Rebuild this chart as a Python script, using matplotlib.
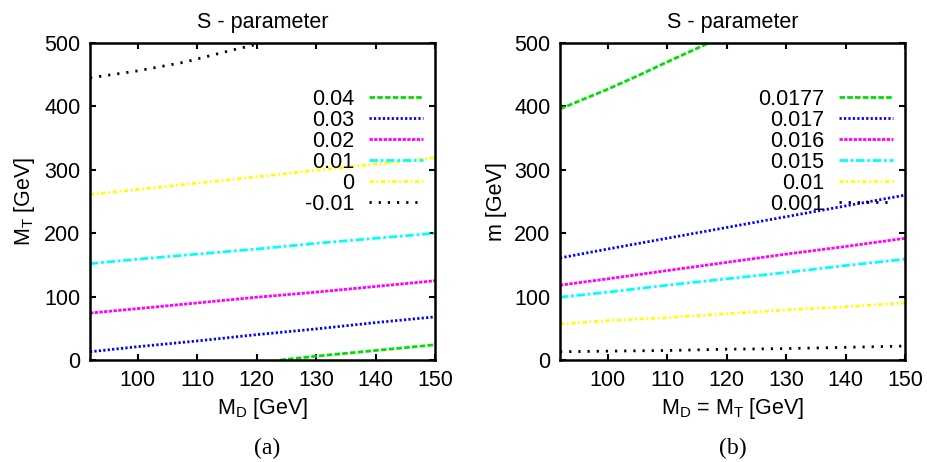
import matplotlib
matplotlib.use('Agg')
import matplotlib.pyplot as plt

plt.rcParams['font.family'] = ['Liberation Sans', 'DejaVu Sans']
plt.rcParams['mathtext.fontset'] = 'custom'
plt.rcParams['mathtext.rm'] = 'Liberation Sans'
plt.rcParams['mathtext.it'] = 'Liberation Sans:italic'

# panel (a): M_T vs M_D
x_a = [92, 100, 110, 120, 130, 140, 150]
labels_a = ['0.04', '0.03', '0.02', '0.01', '0', '-0.01']
green_a_x = [124, 130, 140, 150]
green_a_y = [0, 6, 15, 24]
blue_a = [13, 21, 30, 40, 49, 59, 68]
magenta_a = [74, 81, 90, 99, 107, 116, 125]
cyan_a = [152, 159, 167, 175, 184, 192, 200]
yellow_a = [261, 269, 279, 289, 299, 309, 319]
black_a_x = [92, 100, 108, 116, 121, 122]
black_a_y = [445, 456, 470, 489, 500, 503]

# panel (b): m vs M_D = M_T
x_b = [92, 100, 110, 120, 130, 140, 150]
labels_b = ['0.0177', '0.017', '0.016', '0.015', '0.01', '0.001']
green_b_x = [92, 100, 105, 110, 117, 118]
green_b_y = [396, 427, 448, 470, 500, 504]
blue_b = [161, 175, 192, 209, 226, 243, 260]
magenta_b = [118, 128, 141, 154, 167, 179, 192]
cyan_b = [99, 107, 118, 128, 138, 149, 159]
yellow_b = [57, 62, 67, 73, 79, 84, 90]
black_b = [13, 14, 15, 17, 18, 20, 22]

colors = ['#00e000', '#0000ff', '#ff00ff', '#00ffff', '#ffff00', '#000000']
styles = [(0, (2, 0.8)), (0, (0.8, 0.8)), (0, (1.2, 0.5)),
          (0, (3, 1, 1, 1)), (0, (1.5, 1, 0.6, 1)), (0, (0.8, 2.5))]

fig = plt.figure(figsize=(9.27, 4.62), dpi=100)
ax1 = fig.add_axes([90 / 927, 102 / 462, 345 / 927, 317 / 462])
ax2 = fig.add_axes([560 / 927, 102 / 462, 345 / 927, 317 / 462])

curves_a = [(green_a_x, green_a_y), (x_a, blue_a), (x_a, magenta_a),
            (x_a, cyan_a), (x_a, yellow_a), (black_a_x, black_a_y)]
curves_b = [(green_b_x, green_b_y), (x_b, blue_b), (x_b, magenta_b),
            (x_b, cyan_b), (x_b, yellow_b), (x_b, black_b)]

fs = 15.5
for ax, curves, labels in [(ax1, curves_a, labels_a), (ax2, curves_b, labels_b)]:
    for (xs, ys), lab, c, ls in zip(curves, labels, colors, styles):
        ax.plot(xs, ys, color=c, linestyle=ls, lw=2.0, label=lab)
    ax.set_xlim(92, 150)
    ax.set_ylim(0, 500)
    ax.set_xticks([100, 110, 120, 130, 140, 150])
    ax.set_yticks([0, 100, 200, 300, 400, 500])
    ax.tick_params(direction='in', top=True, right=True, length=4, width=1.5,
                   labelsize=fs, pad=7)
    for s in ax.spines.values():
        s.set_linewidth(1.8)
    ax.set_title('S - parameter', fontsize=fs, pad=11)
    ax.legend(loc='upper right', bbox_to_anchor=(0.965, 0.855), frameon=False,
              markerfirst=False, fontsize=fs, handlelength=2.5,
              handletextpad=0.7, labelspacing=0.0, borderpad=0,
              borderaxespad=0)

ax1.set_xlabel(r'M$_\mathrm{D}$ [GeV]', fontsize=fs, labelpad=4)
ax1.set_ylabel(r'M$_\mathrm{T}$ [GeV]', fontsize=fs, labelpad=5)
ax2.set_xlabel(r'M$_\mathrm{D}$ = M$_\mathrm{T}$ [GeV]', fontsize=fs, labelpad=4)
ax2.set_ylabel('m [GeV]', fontsize=fs, labelpad=5)

fig.text(267 / 927, 1 - 448 / 462, '(a)', family='Liberation Serif',
         fontsize=17, ha='center', va='center')
fig.text(733 / 927, 1 - 448 / 462, '(b)', family='Liberation Serif',
         fontsize=17, ha='center', va='center')

fig.savefig('out.png', dpi=100)
